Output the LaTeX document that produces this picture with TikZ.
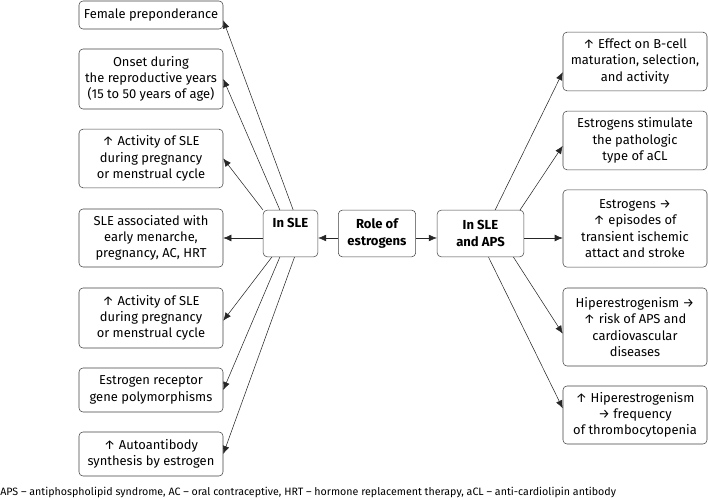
\documentclass[tikz,border=0pt]{standalone}
\usepackage{fontspec}
\setmainfont{Fira Sans}
\usetikzlibrary{arrows.meta}
\tikzstyle{box} = [draw=black!75, rounded corners=3pt, align=center, inner sep=1pt, font=\fontsize{9.7}{12.2}\selectfont]
\tikzstyle{side} = [box, minimum width=108pt]
\tikzstyle{hub} = [box, minimum height=35pt, font=\fontsize{9.8}{12.2}\selectfont\bfseries]
\tikzstyle{arrow} = [black!85, -{Latex[length=6pt,width=5pt]}]

\begin{document}
\begin{tikzpicture}[x=0.75pt, y=-0.75pt]
	\useasboundingbox (0, 0) rectangle (708, 499);
	% centre
	\node [hub, minimum width=41pt] (insle) at (290.5, 233.5) {In SLE\\\strut};
	\node [hub, minimum width=58pt] (role) at (377, 233.5) {Role of\\estrogens};
	\node [hub, minimum width=65pt] (aps) at (480.5, 233.5) {In SLE\\and APS};
	% left column
	\node [side, minimum height=21pt] (l1) at (151, 15) {Female preponderance};
	\node [side, minimum height=45pt] (l2) at (151, 79) {Onset during\\the reproductive years\\(15 to 50 years of age)};
	\node [side, minimum height=44pt] (l3) at (151, 158.5) {↑ Activity of SLE\\during pregnancy\\or menstrual cycle};
	\node [side, minimum height=43.5pt] (l4) at (151, 238) {SLE associated with\\early menarche,\\pregnancy, AC, HRT};
	\node [side, minimum height=45pt] (l5) at (151, 318) {↑ Activity of SLE\\during pregnancy\\or menstrual cycle};
	\node [side, minimum height=33pt] (l6) at (151, 390) {Estrogen receptor\\gene polymorphisms};
	\node [side, minimum height=33pt] (l7) at (151, 454) {↑ Autoantibody\\synthesis by estrogen};
	% right column
	\node [side, minimum height=44pt] (r1) at (635, 61.5) {↑ Effect on B-cell\\maturation, selection,\\and activity};
	\node [side, minimum height=44pt] (r2) at (635, 140.5) {Estrogens stimulate\\the pathologic\\type of aCL};
	\node [side, minimum height=58pt] (r3) at (635, 228.5) {Estrogens →\\↑ episodes of\\transient ischemic\\attact and stroke};
	\node [side, minimum height=58.5pt] (r4) at (635, 327) {Hiperestrogenism →\\↑ risk of APS and\\cardiovascular\\diseases};
	\node [side, minimum height=43.5pt] (r5) at (635, 415) {↑ Hiperestrogenism\\→ frequency\\of thrombocytopenia};
	% footnote
	\node [anchor=base west, inner sep=0pt, font=\fontsize{8}{10}\selectfont] (note) at (0, 495) {APS – antiphospholipid syndrome, AC – oral contraceptive, HRT – hormone replacement therapy, aCL – anti-cardiolipin antibody};
	% arrows
	\draw[arrow] (role.west |- l4.east) -- (insle.east |- l4.east);
	\draw[arrow] (role.east |- l4.east) -- (aps.west |- l4.east);
	\draw[arrow] ([xshift=2pt]insle.north) -- ([yshift=-4pt]l1.east);
	\draw[arrow] ([xshift=-8pt]insle.north) -- (l2.east);
	\draw[arrow] (insle.north west) -- (l3.east);
	\draw[arrow] (insle.west |- l4.east) -- (l4.east);
	\draw[arrow] ([xshift=-14pt]insle.south) -- ([yshift=-2pt]l5.east);
	\draw[arrow] ([xshift=-8pt]insle.south) -- (l6.east);
	\draw[arrow] ([xshift=3pt]insle.south) -- (l7.east);
	\draw[arrow] ([xshift=11pt]aps.north) -- ([yshift=-8pt]r1.west);
	\draw[arrow] ([xshift=-3pt]aps.north east) -- ([yshift=-4pt]r2.west);
	\draw[arrow] (aps.east |- l4.east) -- (r3.west |- l4.east);
	\draw[arrow] ([xshift=-8pt]aps.south east) -- ([yshift=-5pt]r4.west);
	\draw[arrow] ([xshift=6pt]aps.south) -- ([yshift=5pt]r5.west);
\end{tikzpicture}
\end{document}
